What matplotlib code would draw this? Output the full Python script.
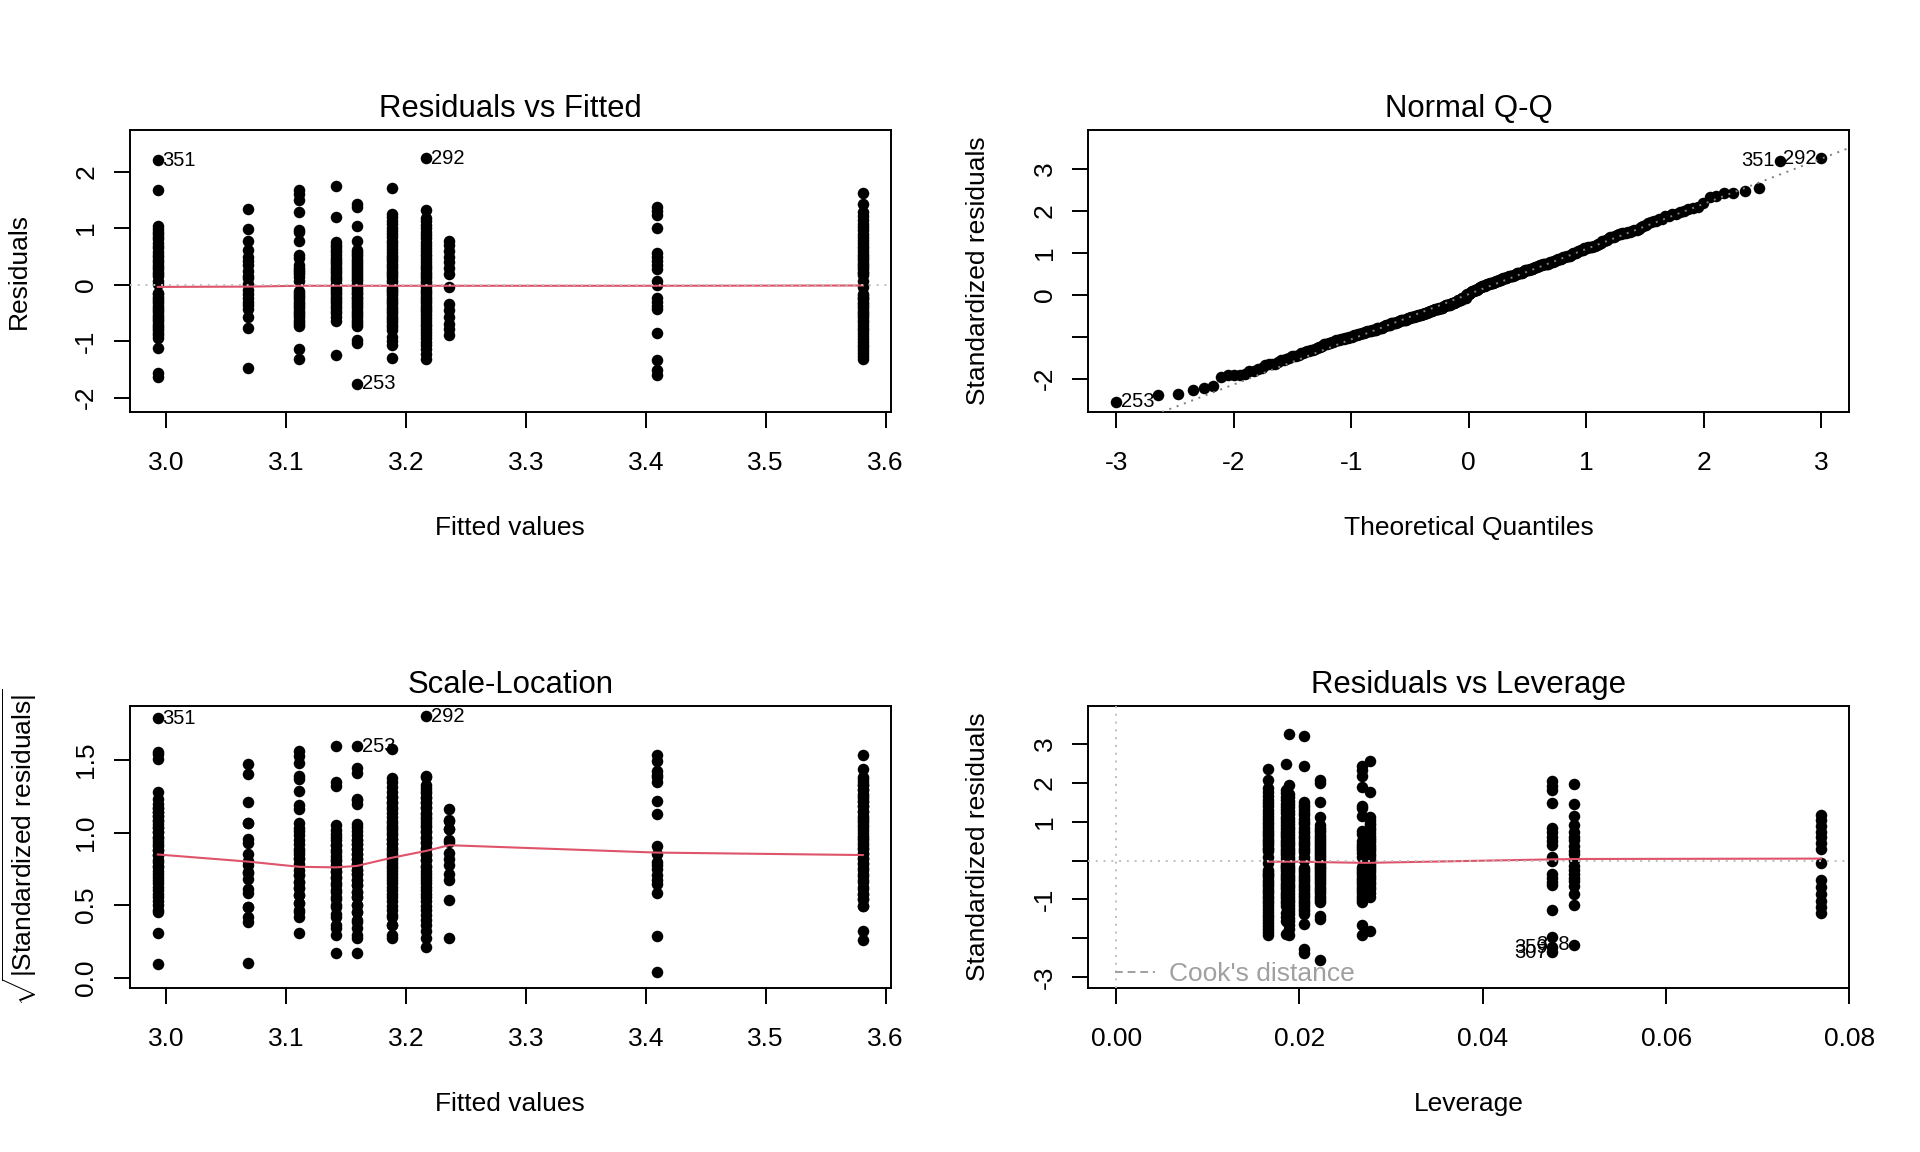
import numpy as np
import matplotlib
matplotlib.use("Agg")
import matplotlib.pyplot as plt
from matplotlib.lines import Line2D
from statistics import NormalDist

plt.rcParams['font.family'] = ['Liberation Sans', 'DejaVu Sans']
plt.rcParams['mathtext.fontset'] = 'custom'
plt.rcParams['mathtext.rm'] = 'Liberation Sans'
plt.rcParams['axes.unicode_minus'] = False

# ---- values ----
fitted_groups = [2.993, 3.068, 3.111, 3.142, 3.159, 3.188, 3.217, 3.236, 3.409, 3.581]
leverage_groups = [0.0205, 0.0500, 0.0268, 0.0277, 0.0222, 0.0185, 0.0189, 0.0769, 0.0476, 0.0166]
sigma_hat = 0.695

resid_groups = [
    [2.20, 1.67, 1.04, 0.99, 0.94, 0.90, 0.85, 0.80, 0.74, 0.69, 0.64, 0.58, 0.53, 0.49, 0.44, 0.40,
     0.35, 0.31, 0.27, 0.23, 0.19, 0.15, 0.066, 0.006, -0.14, -0.17, -0.21, -0.25, -0.29, -0.33,
     -0.37, -0.41, -0.45, -0.49, -0.53, -0.57, -0.61, -0.65, -0.69, -0.73, -0.77, -0.81, -0.85,
     -0.90, -0.94, -1.13, -1.57, -1.64],
    [1.34, 0.99, 0.77, 0.62, 0.49, 0.41, 0.35, 0.25, 0.16, 0.12, 0.007, -0.10, -0.16, -0.23, -0.31,
     -0.36, -0.44, -0.58, -0.77, -1.47],
    [1.67, 1.60, 1.50, 1.29, 0.97, 0.93, 0.78, 0.52, 0.47, 0.34, 0.30, 0.26, 0.22, 0.18, 0.14, 0.066,
     -0.12, -0.15, -0.18, -0.22, -0.26, -0.30, -0.34, -0.38, -0.42, -0.46, -0.50, -0.54, -0.58,
     -0.62, -0.66, -0.70, -0.73, -1.14, -1.32],
    [1.75, 1.20, 0.76, 0.71, 0.67, 0.62, 0.57, 0.53, 0.48, 0.44, 0.40, 0.36, 0.32, 0.28, 0.24, 0.20,
     0.16, 0.12, 0.08, 0.02, -0.06, -0.09, -0.13, -0.17, -0.21, -0.25, -0.29, -0.33, -0.37, -0.41,
     -0.46, -0.51, -0.57, -0.64, -1.25],
    [1.43, 1.37, 1.03, 0.77, 0.62, 0.58, 0.54, 0.50, 0.46, 0.42, 0.38, 0.35, 0.31, 0.28, 0.24, 0.21,
     0.17, 0.14, 0.10, 0.06, 0.02, -0.05, -0.08, -0.11, -0.14, -0.17, -0.21, -0.24, -0.28, -0.31,
     -0.35, -0.38, -0.42, -0.46, -0.50, -0.54, -0.58, -0.62, -0.66, -0.70, -0.74, -0.98, -1.04, -1.75],
    [1.71, 1.25, 1.19, 1.13, 1.07, 1.01, 0.95, 0.89, 0.84, 0.78, 0.73, 0.68, 0.63, 0.58, 0.53, 0.49,
     0.45, 0.41, 0.37, 0.33, 0.29, 0.25, 0.21, 0.17, 0.13, 0.09, 0.05, -0.06, -0.09, -0.12, -0.15,
     -0.19, -0.23, -0.27, -0.31, -0.35, -0.39, -0.43, -0.47, -0.51, -0.55, -0.59, -0.63, -0.67,
     -0.71, -0.75, -0.80, -0.93, -1.00, -1.07, -1.30],
    [2.24, 1.33, 1.18, 1.12, 1.06, 1.00, 0.94, 0.88, 0.82, 0.76, 0.70, 0.65, 0.60, 0.55, 0.50, 0.45,
     0.40, 0.35, 0.31, 0.27, 0.23, 0.19, 0.15, 0.11, 0.07, 0.03, -0.05, -0.09, -0.13, -0.17, -0.21,
     -0.25, -0.29, -0.33, -0.37, -0.41, -0.45, -0.49, -0.54, -0.59, -0.64, -0.69, -0.74, -0.79,
     -0.84, -0.89, -0.95, -1.01, -1.07, -1.14, -1.22, -1.32],
    [0.78, 0.70, 0.60, 0.49, 0.40, 0.30, 0.19, -0.05, -0.34, -0.45, -0.58, -0.70, -0.79, -0.90],
    [1.38, 1.30, 1.23, 1.01, 0.56, 0.49, 0.41, 0.34, 0.28, 0.057, -0.001, -0.23, -0.31, -0.38, -0.43,
     -0.86, -1.33, -1.51, -1.60],
    [1.62, 1.42, 1.29, 1.22, 1.15, 1.08, 1.02, 0.96, 0.90, 0.84, 0.79, 0.74, 0.69, 0.64, 0.59, 0.55,
     0.51, 0.47, 0.43, 0.39, 0.35, 0.31, 0.27, 0.23, 0.20, 0.17, 0.07, -0.047, -0.17, -0.20, -0.23,
     -0.26, -0.30, -0.34, -0.38, -0.42, -0.46, -0.50, -0.54, -0.58, -0.62, -0.66, -0.71, -0.76,
     -0.81, -0.86, -0.91, -0.96, -1.01, -1.06, -1.11, -1.16, -1.21, -1.26, -1.32],
]

# labelled observations: (id, group, residual)
ids_resid = [("351", 0, 2.20), ("292", 6, 2.24), ("253", 4, -1.75)]
ids_cook = [("359", 8, -1.51), ("307", 8, -1.60), ("318", 1, -1.47)]

# red smoother curves
smooth_fit_y = [-0.04, -0.035, -0.02, -0.02, -0.02, -0.02, -0.02, -0.02, -0.02, -0.015]
smooth_scale_y = [0.849, 0.80, 0.764, 0.76, 0.77, 0.826, 0.874, 0.913, 0.862, 0.845]
smooth_lev_x = [0.0166, 0.0187, 0.0205, 0.0222, 0.0272, 0.0476, 0.0500, 0.0769]
smooth_lev_y = [-0.03, -0.03, -0.03, -0.04, -0.06, 0.03, 0.04, 0.05]

# ---- derived quantities (as plot.lm does) ----
fit = np.concatenate([[f] * len(r) for f, r in zip(fitted_groups, resid_groups)])
lev = np.concatenate([[h] * len(r) for h, r in zip(leverage_groups, resid_groups)])
res = np.concatenate([np.array(r, dtype=float) for r in resid_groups])
std_res = res / (sigma_hat * np.sqrt(1 - lev))
sqrt_abs = np.sqrt(np.abs(std_res))
n = len(res)

order = np.argsort(std_res)
theo = np.empty(n)
theo[order] = [NormalDist().inv_cdf((i + 0.5) / n) for i in range(n)]
q1, q3 = np.percentile(std_res, [25, 75])
z1, z3 = NormalDist().inv_cdf(0.25), NormalDist().inv_cdf(0.75)
qq_slope = (q3 - q1) / (z3 - z1)
qq_int = q1 - qq_slope * z1

offsets = np.cumsum([0] + [len(r) for r in resid_groups])


def obs_index(g, v):
    return offsets[g] + resid_groups[g].index(v)


def r_range(lo, hi, f=0.04):
    d = (hi - lo) * f
    return lo - d, hi + d


RED = '#DF536B'
PT = dict(ls='none', marker='o', ms=8.3, color='black', mew=0, zorder=2)
DOT = (0, (1, 3))


def frame(ax, title, xlab, ylab, xt, xtl, yt, ytl):
    ax.set_title(title, fontsize=22.4, pad=9.3)
    ax.set_xticks(xt)
    ax.set_xticklabels(xtl)
    ax.set_yticks(yt)
    ax.set_yticklabels(ytl, rotation=90, va='center')
    ax.tick_params(direction='out', length=11.5, width=1.4, labelsize=19)
    ax.tick_params(axis='x', pad=16.5)
    ax.tick_params(axis='y', pad=11)
    for sp in ax.spines.values():
        sp.set_linewidth(1.4)
    ax.set_xlabel(xlab, fontsize=19, va='center')
    ax.xaxis.set_label_coords(0.5, -0.411)
    ax.set_ylabel(ylab, fontsize=19, va='center')
    ax.yaxis.set_label_coords(-0.145, 0.5)


def label(ax, x, y, text, xmid):
    left = x > xmid
    ax.annotate(text, (x, y), xytext=(-3.5 if left else 3.5, 0), textcoords='offset points',
                ha='right' if left else 'left', va='center', fontsize=14.5, zorder=5)


fig = plt.figure(figsize=(19.2, 11.52), dpi=100)
W, H = 1920, 1152
ax1 = fig.add_axes([129.6 / W, 1 - 412 / H, 761.4 / W, 282.4 / H])
ax2 = fig.add_axes([1088 / W, 1 - 412 / H, 761.4 / W, 282.4 / H])
ax3 = fig.add_axes([129.6 / W, 1 - 988 / H, 761.4 / W, 282.4 / H])
ax4 = fig.add_axes([1088 / W, 1 - 988 / H, 761.4 / W, 282.4 / H])

# 1. Residuals vs Fitted
ax1.plot(fit, res, **PT)
ax1.plot(fitted_groups, smooth_fit_y, color=RED, lw=1.5, zorder=3)
ax1.axhline(0, color='#BEBEBE', ls=DOT, lw=1.4, zorder=4)
xmid = (fit.min() + fit.max()) / 2
for t, g, v in ids_resid:
    i = obs_index(g, v)
    label(ax1, fit[i], res[i], t, xmid)
ax1.set_xlim(*r_range(fit.min(), fit.max()))
ax1.set_ylim(*r_range(*r_range(res.min(), res.max(), 0.08)))
xt = [3.0, 3.1, 3.2, 3.3, 3.4, 3.5, 3.6]
frame(ax1, "Residuals vs Fitted", "Fitted values", "Residuals",
      xt, ["%.1f" % v for v in xt], [-2, -1, 0, 1, 2], ["-2", "-1", "0", "1", "2"])

# 2. Normal Q-Q
ax2.plot(theo, std_res, **PT)
ax2.axline((0, qq_int), slope=qq_slope, color='#7F7F7F', ls=DOT, lw=1.4, zorder=4)
tmid = (theo.min() + theo.max()) / 2
for t, g, v in ids_resid:
    i = obs_index(g, v)
    label(ax2, theo[i], std_res[i], t, tmid)
ax2.set_xlim(*r_range(theo.min(), theo.max()))
lo, hi = std_res.min(), std_res.max()
ax2.set_ylim(*r_range(lo, hi + 0.075 * (hi - lo)))
frame(ax2, "Normal Q-Q", "Theoretical Quantiles", "Standardized residuals",
      [-3, -2, -1, 0, 1, 2, 3], ["-3", "-2", "-1", "0", "1", "2", "3"],
      [-2, -1, 0, 1, 2, 3], ["-2", "", "0", "1", "2", "3"])

# 3. Scale-Location
ax3.plot(fit, sqrt_abs, **PT)
ax3.plot(fitted_groups, smooth_scale_y, color=RED, lw=1.5, zorder=3)
for t, g, v in ids_resid:
    i = obs_index(g, v)
    label(ax3, fit[i], sqrt_abs[i], t, xmid)
ax3.set_xlim(*r_range(fit.min(), fit.max()))
ax3.set_ylim(*r_range(0, sqrt_abs.max()))
frame(ax3, "Scale-Location", "Fitted values", r"$\sqrt{|\mathrm{Standardized\ residuals}|}$",
      xt, ["%.1f" % v for v in xt], [0.0, 0.5, 1.0, 1.5], ["0.0", "0.5", "1.0", "1.5"])

# 4. Residuals vs Leverage
ax4.plot(lev, std_res, **PT)
ax4.plot(smooth_lev_x, smooth_lev_y, color=RED, lw=1.5, zorder=3)
ax4.axhline(0, color='#BEBEBE', ls=DOT, lw=1.4, zorder=4)
ax4.axvline(0, color='#BEBEBE', ls=DOT, lw=1.4, zorder=4)
lmid = lev.max() / 2
for t, g, v in ids_cook:
    i = obs_index(g, v)
    label(ax4, lev[i], std_res[i], t, lmid)
ax4.set_xlim(*r_range(0, lev.max()))
ax4.set_ylim(*r_range(*r_range(std_res.min(), std_res.max(), 0.08)))
lt = [0.00, 0.02, 0.04, 0.06, 0.08]
frame(ax4, "Residuals vs Leverage", "Leverage", "Standardized residuals",
      lt, ["%.2f" % v for v in lt], [-3, -2, -1, 0, 1, 2, 3], ["-3", "", "-1", "", "1", "2", "3"])
handle = Line2D([], [], color='#A0A0A0', ls=(0, (4, 2.5)), lw=1.4)
leg = ax4.legend([handle], ["Cook's distance"], loc='lower left', bbox_to_anchor=(0.0355, 0.006),
                 frameon=False, fontsize=19, handlelength=1.5, handletextpad=0.55,
                 borderpad=0, borderaxespad=0)
for txt in leg.get_texts():
    txt.set_color('#A0A0A0')

fig.savefig("out.png", dpi=100)
